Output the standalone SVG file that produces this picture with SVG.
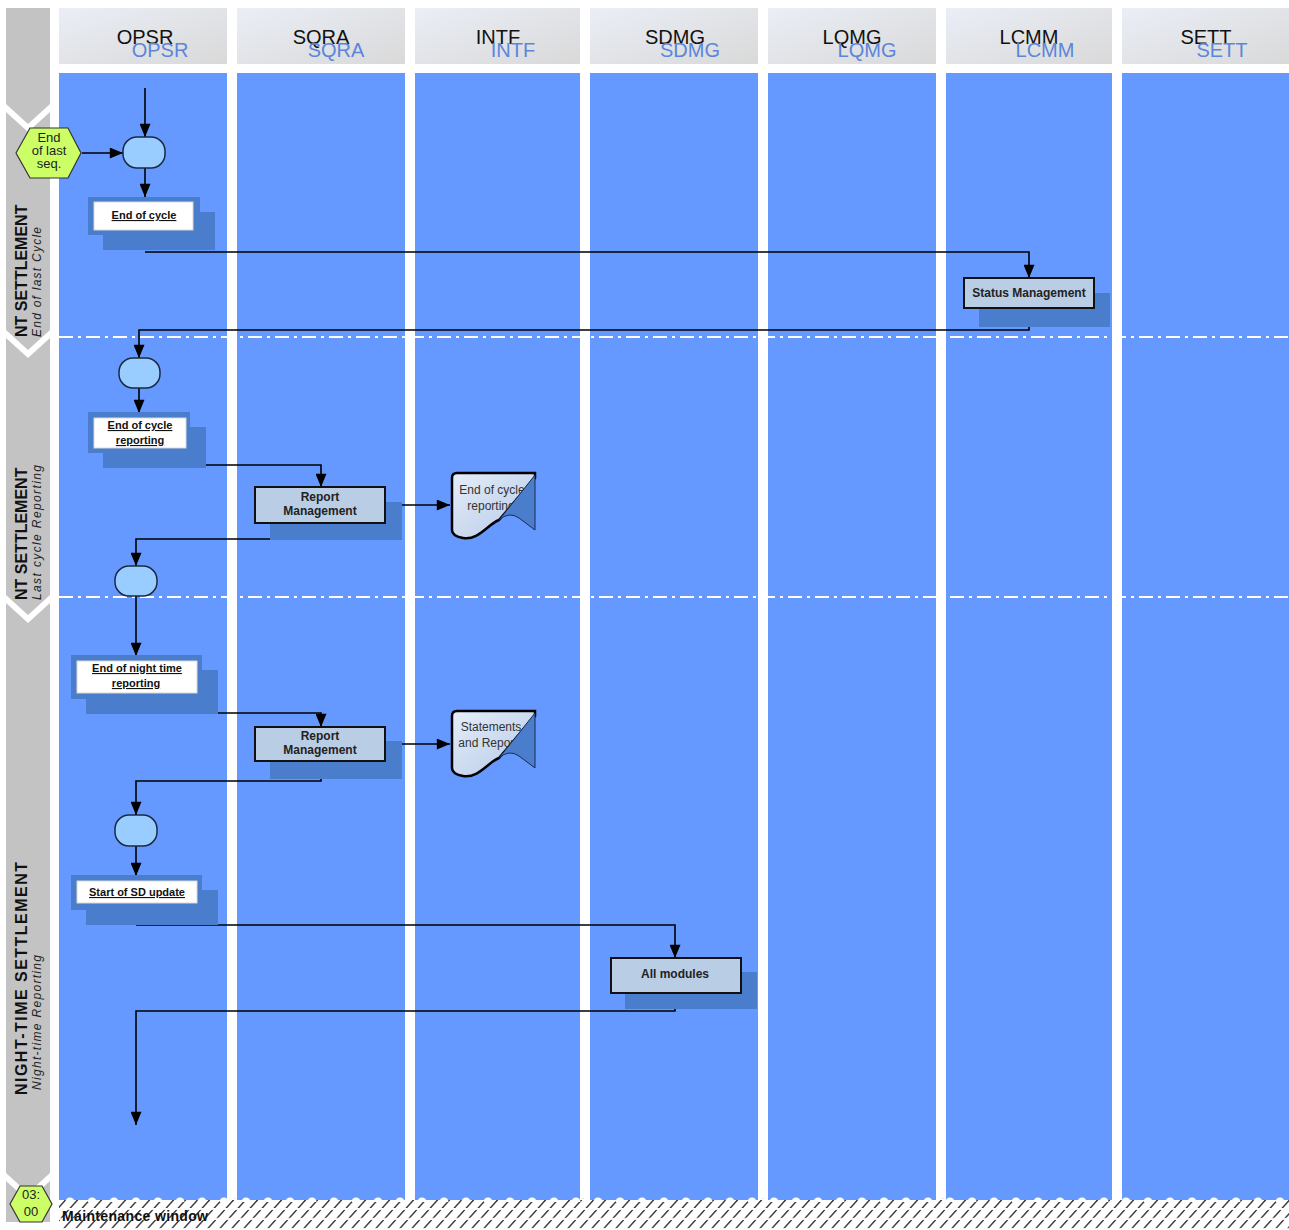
<svg xmlns="http://www.w3.org/2000/svg" width="1289" height="1230" viewBox="0 0 1289 1230">
<style>
.lane{fill:#6699ff}
.hdr{fill:url(#hg)}
.ht1{font-family:"Liberation Sans",Arial,sans-serif;font-size:20px;fill:#111;text-anchor:middle}
.ht2{font-family:"Liberation Sans",Arial,sans-serif;font-size:20px;fill:#5b86d9;text-anchor:middle}
.band{fill:#c3c3c3}
.sh{fill:#4a7dcc}
.wb{fill:#ffffff;stroke:#d8d8d8;stroke-width:1}
.pb{fill:#b9cde5;stroke:#111;stroke-width:2}
.ev{fill:#99ccff;stroke:#1a2a40;stroke-width:1.5}
.ut{font-family:"Liberation Sans",Arial,sans-serif;font-size:11px;font-weight:bold;fill:#111;text-anchor:middle;text-decoration:underline}
.bt{font-family:"Liberation Sans",Arial,sans-serif;font-size:12px;font-weight:bold;fill:#222;text-anchor:middle}
.dt{font-family:"Liberation Sans",Arial,sans-serif;font-size:12px;fill:#333;text-anchor:middle}
.conn path{fill:none;stroke:#000;stroke-width:1.6}
.sep{stroke:#ffffff;stroke-width:2;stroke-dasharray:14 5 3 5;fill:none}
.lt1{font-family:"Liberation Sans",Arial,sans-serif;font-size:16px;font-weight:bold;fill:#111}
.lt2{font-family:"Liberation Sans",Arial,sans-serif;font-size:12px;font-style:italic;fill:#222}
.hex{fill:#ccff66;stroke:#333;stroke-width:1.2}
.hx{font-family:"Liberation Sans",Arial,sans-serif;font-size:13px;fill:#222;text-anchor:middle}
.doc{fill:url(#dg);stroke:#000;stroke-width:2.5}
.curl{fill:#4a7dcc;stroke:#1a2a50;stroke-width:1}
</style>
<defs>
<linearGradient id="hg" x1="0" y1="0" x2="1" y2="1">
<stop offset="0" stop-color="#eaeef6"/>
<stop offset="1" stop-color="#d9d9d9"/>
</linearGradient>
<linearGradient id="dg" x1="0" y1="0" x2="1" y2="1">
<stop offset="0" stop-color="#e6eef9"/>
<stop offset="1" stop-color="#b3c8e6"/>
</linearGradient>
<marker id="a" viewBox="0 0 12 10" refX="12" refY="5" markerWidth="14" markerHeight="11" orient="auto" markerUnits="userSpaceOnUse">
<path d="M0,0 L12,5 L0,10 Z" fill="#000"/>
</marker>
<pattern id="hatch" width="12" height="30" patternUnits="userSpaceOnUse" patternTransform="skewX(-42)">
<line x1="6" y1="0" x2="6" y2="30" stroke="#111" stroke-width="1.6" stroke-dasharray="8 2"/>
</pattern>
<pattern id="scal" x="59" y="1195" width="22" height="10" patternUnits="userSpaceOnUse">
<circle cx="11" cy="7" r="4.5" fill="#ffffff"/>
</pattern>
</defs>
<rect width="1289" height="1230" fill="#ffffff"/>

<!-- left band -->
<g id="band">
<path class="band" d="M6,8 H50 V104 L28,124 L6,104 Z"/>
<path class="band" d="M6,112 L28,132 L50,112 V330 L28,350 L6,330 Z"/>
<path class="band" d="M6,338 L28,358 L50,338 V595 L28,615 L6,595 Z"/>
<path class="band" d="M6,603 L28,623 L50,603 V1173 L28,1193 L6,1173 Z"/>
<path class="band" d="M6,1181 L28,1201 L50,1181 V1222 H6 Z"/>
</g>

<!-- hatch footer -->
<rect x="59" y="1198" width="1230" height="32" fill="url(#hatch)"/>

<!-- lanes -->
<g id="lanes">
<g id="lane-opsr"><rect class="hdr" x="59" y="8" width="168" height="56"/><rect class="lane" x="59" y="73" width="168" height="1127"/><text class="ht1" x="145" y="44">OPSR</text><text class="ht2" x="160" y="57">OPSR</text></g>
<g id="lane-sqra"><rect class="hdr" x="237" y="8" width="168" height="56"/><rect class="lane" x="237" y="73" width="168" height="1127"/><text class="ht1" x="321" y="44">SQRA</text><text class="ht2" x="336" y="57">SQRA</text></g>
<g id="lane-intf"><rect class="hdr" x="415" y="8" width="165" height="56"/><rect class="lane" x="415" y="73" width="165" height="1127"/><text class="ht1" x="498" y="44">INTF</text><text class="ht2" x="513" y="57">INTF</text></g>
<g id="lane-sdmg"><rect class="hdr" x="590" y="8" width="168" height="56"/><rect class="lane" x="590" y="73" width="168" height="1127"/><text class="ht1" x="675" y="44">SDMG</text><text class="ht2" x="690" y="57">SDMG</text></g>
<g id="lane-lqmg"><rect class="hdr" x="768" y="8" width="168" height="56"/><rect class="lane" x="768" y="73" width="168" height="1127"/><text class="ht1" x="852" y="44">LQMG</text><text class="ht2" x="867" y="57">LQMG</text></g>
<g id="lane-lcmm"><rect class="hdr" x="946" y="8" width="166" height="56"/><rect class="lane" x="946" y="73" width="166" height="1127"/><text class="ht1" x="1029" y="44">LCMM</text><text class="ht2" x="1045" y="57">LCMM</text></g>
<g id="lane-sett"><rect class="hdr" x="1122" y="8" width="167" height="56"/><rect class="lane" x="1122" y="73" width="167" height="1127"/><text class="ht1" x="1206" y="44">SETT</text><text class="ht2" x="1222" y="57">SETT</text></g>
</g>
<rect x="59" y="1195" width="1230" height="7" fill="url(#scal)"/>

<!-- separators -->
<line class="sep" x1="59" y1="337" x2="1289" y2="337"/>
<line class="sep" x1="59" y1="597" x2="1289" y2="597"/>

<!-- phase labels -->
<g id="phase1"><text class="lt1" transform="translate(27,337) rotate(-90)">NT SETTLEMENT</text><text class="lt2" transform="translate(41,337) rotate(-90)" textLength="110">End of last Cycle</text></g>
<g id="phase2"><text class="lt1" transform="translate(27,600) rotate(-90)">NT SETTLEMENT</text><text class="lt2" transform="translate(41,600) rotate(-90)" textLength="135">Last cycle Reporting</text></g>
<g id="phase3"><text class="lt1" transform="translate(27,1095) rotate(-90)" textLength="233">NIGHT-TIME SETTLEMENT</text><text class="lt2" transform="translate(41,1090) rotate(-90)" textLength="135">Night-time Reporting</text></g>

<!-- connectors -->
<g id="connectors" class="conn">
<path d="M145,88 V137" marker-end="url(#a)"/>
<path d="M82,153 H123" marker-end="url(#a)"/>
<path d="M145,168 V197" marker-end="url(#a)"/>
<path d="M145,252 H1029 V278" marker-end="url(#a)"/>
<path d="M1029,326 V330 H139 V358" marker-end="url(#a)"/>
<path d="M139,388 V413" marker-end="url(#a)"/>
<path d="M206,465 H321 V487" marker-end="url(#a)"/>
<path d="M402,505 H450" marker-end="url(#a)"/>
<path d="M270,539 H136 V566" marker-end="url(#a)"/>
<path d="M136,596 V656" marker-end="url(#a)"/>
<path d="M218,713 H321 V727" marker-end="url(#a)"/>
<path d="M402,744 H450" marker-end="url(#a)"/>
<path d="M321,778 V781 H136 V815" marker-end="url(#a)"/>
<path d="M136,846 V876" marker-end="url(#a)"/>
<path d="M136,925 H675 V958" marker-end="url(#a)"/>
<path d="M675,1008 V1011 H136 V1125" marker-end="url(#a)"/>
</g>

<!-- nodes -->
<g id="hex-end-last-seq">
<polygon class="hex" points="16,153 30,128 68,128 81,153 68,178 30,178"/>
<text class="hx" x="49" y="142">End</text>
<text class="hx" x="49" y="155">of last</text>
<text class="hx" x="49" y="168">seq.</text>
</g>
<g id="ev1"><rect class="ev" x="123" y="137" width="42" height="31" rx="14"/></g>
<g id="end-of-cycle">
<rect class="sh" x="88" y="197" width="112" height="38"/>
<rect class="sh" x="103" y="212" width="112" height="38"/>
<rect class="wb" x="94" y="202" width="99" height="28"/>
<text class="ut" x="144" y="219">End of cycle</text>
</g>
<g id="status-mgmt">
<rect class="sh" x="979" y="293" width="131" height="34"/>
<rect class="pb" x="964" y="278" width="130" height="30"/>
<text class="bt" x="1029" y="297" font-size="11">Status Management</text>
</g>
<g id="ev2"><rect class="ev" x="119" y="358" width="41" height="30" rx="14"/></g>
<g id="end-of-cycle-reporting">
<rect class="sh" x="88" y="412" width="102" height="41"/>
<rect class="sh" x="103" y="427" width="103" height="41"/>
<rect class="wb" x="94" y="418" width="92" height="30"/>
<text class="ut" x="140" y="429">End of cycle</text>
<text class="ut" x="140" y="444">reporting</text>
</g>
<g id="report-mgmt-1">
<rect class="sh" x="270" y="502" width="132" height="38"/>
<rect class="pb" x="255" y="487" width="130" height="36"/>
<text class="bt" x="320" y="501">Report</text>
<text class="bt" x="320" y="515">Management</text>
</g>
<g id="doc-end-of-cycle-reporting">
<path class="doc" d="M452,478 Q452,473 457,473 H535 V478 L499,520 C488,524 478,541 463,538 Q452,536 452,530 Z"/>
<text class="dt" x="492" y="494">End of cycle</text>
<text class="dt" x="491" y="510">reporting</text>
<path class="curl" d="M535,475 V530 L519,518 Q509,511 499,520 Z"/>
</g>
<g id="ev3"><rect class="ev" x="115" y="566" width="42" height="30" rx="14"/></g>
<g id="end-of-night-time-reporting">
<rect class="sh" x="71" y="655" width="131" height="44"/>
<rect class="sh" x="86" y="670" width="132" height="44"/>
<rect class="wb" x="77" y="661" width="120" height="32"/>
<text class="ut" x="137" y="672">End of night time</text>
<text class="ut" x="136" y="687">reporting</text>
</g>
<g id="report-mgmt-2">
<rect class="sh" x="270" y="741" width="132" height="38"/>
<rect class="pb" x="255" y="727" width="130" height="34"/>
<text class="bt" x="320" y="740">Report</text>
<text class="bt" x="320" y="754">Management</text>
</g>
<g id="doc-statements">
<path class="doc" d="M452,716 Q452,711 457,711 H535 V716 L499,758 C488,762 478,779 463,776 Q452,774 452,768 Z"/>
<text class="dt" x="491" y="731">Statements</text>
<text class="dt" x="491" y="747">and Reports</text>
<path class="curl" d="M535,713 V768 L519,756 Q509,749 499,758 Z"/>
</g>
<g id="ev4"><rect class="ev" x="115" y="815" width="42" height="31" rx="14"/></g>
<g id="start-sd-update">
<rect class="sh" x="71" y="875" width="131" height="35"/>
<rect class="sh" x="86" y="890" width="132" height="35"/>
<rect class="wb" x="77" y="881" width="120" height="22"/>
<text class="ut" x="137" y="896">Start of SD update</text>
</g>
<g id="all-modules">
<rect class="sh" x="625" y="972" width="132" height="37"/>
<rect class="pb" x="611" y="958" width="130" height="35"/>
<text class="bt" x="675" y="978" font-size="11">All modules</text>
</g>
<g id="hex-0300">
<polygon class="hex" points="10,1204 20,1186 42,1186 52,1204 42,1222 20,1222"/>
<text class="hx" x="31" y="1199" font-size="12">03:</text>
<text class="hx" x="31" y="1216" font-size="12">00</text>
</g>
<text x="62" y="1221" font-family="Liberation Sans, Arial, sans-serif" font-size="14" font-weight="bold" fill="#111" textLength="146">Maintenance window</text>
</svg>
